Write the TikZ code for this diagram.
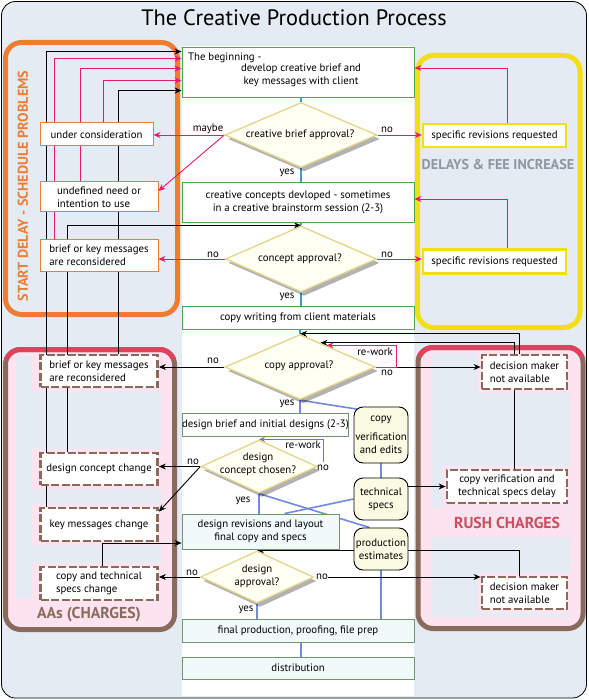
\documentclass[tikz,border=0pt]{standalone}
\usepackage{fontspec}
\setmainfont{PT Sans}
\usetikzlibrary{shapes.geometric,arrows.meta,calc,shadows}
\pgfdeclarelayer{panels}
\pgfdeclarelayer{edges}
\pgfsetlayers{panels,edges,main}
\definecolor{bgc}{HTML}{E4EBF2}
\definecolor{orangec}{HTML}{EE7D33}
\definecolor{yellowc}{HTML}{F2DF13}
\definecolor{brownc}{HTML}{8A6A5B}
\definecolor{redc}{HTML}{E2405C}
\definecolor{pinkc}{HTML}{FCE3EF}
\definecolor{greenc}{HTML}{4FA64F}
\definecolor{greentwo}{HTML}{6E976E}
\definecolor{skyc}{HTML}{3C9AD6}
\definecolor{peric}{HTML}{7389DE}
\definecolor{purpc}{HTML}{7470C8}
\definecolor{magc}{HTML}{E8196E}
\definecolor{diafill}{HTML}{FFFFF3}
\definecolor{diadraw}{HTML}{E3D58B}
\definecolor{beige}{HTML}{FBFBE4}
\definecolor{greyt}{HTML}{8D96A2}
\definecolor{rusht}{HTML}{C9505F}
\definecolor{lcyan}{HTML}{F1F9F9}
\tikzset{
 txt/.style={font=\fontsize{10.8}{13}\selectfont, text=black, inner sep=0pt},
 cbox/.style={draw=greenc, line width=0.9pt, fill=white, txt, align=center},
 gbox/.style={draw=greentwo, line width=0.9pt, fill=lcyan, txt, align=center},
 obox/.style={draw=orangec, line width=1pt, fill=white, txt, align=left},
 ybox/.style={draw=yellowc, line width=2.2pt, fill=white, txt},
 dbox/.style={draw=brownc, line width=2.8pt, dash pattern=on 8pt off 2.5pt, fill=white, txt, align=left},
 rbox/.style={draw=black, line width=0.9pt, fill=beige, rounded corners=9pt, txt, align=center},
 dia/.style={diamond, draw=diadraw, line width=1.3pt, fill=diafill, inner sep=0pt,
   drop shadow={shadow xshift=3pt, shadow yshift=-4pt, fill=black, opacity=0.3}},
 lab/.style={txt},
 ptitle/.style={font=\bfseries\fontsize{14.2}{16}\selectfont, inner sep=0pt},
 btitle/.style={font=\bfseries\fontsize{15.8}{18}\selectfont, inner sep=0pt},
 blk/.style={draw=black, line width=0.9pt, -{Stealth[length=7pt,width=6pt]}},
 pnk/.style={draw=magc, line width=0.9pt, -{Stealth[length=7pt,width=6pt]}},
 prp/.style={draw=purpc, line width=0.9pt, -{Stealth[length=6pt,width=5pt]}},
 sky/.style={draw=skyc, line width=2pt},
 peri/.style={draw=peric, line width=1.6pt},
}
\begin{document}
\begin{tikzpicture}[x=1pt,y=-1pt]
\useasboundingbox (0,0) rectangle (588,700);

% ---------- title
\node[font=\fontsize{22.3}{26}\selectfont, inner sep=0pt] (title) at (294,18) {The Creative Production Process};

% ---------- centre column
\node[cbox, minimum width=232pt, minimum height=50pt] (b1) at (298,72) {};
\node[txt, anchor=base west] (b1a) at (188,61) {The beginning -};
\node[txt, align=center] (b1b) at (301,75) {develop creative brief and\\key messages with client};
\node[dia, minimum width=152pt, minimum height=65pt] (cba) at (301,135) {};
\node[txt] (cbat) at (300,135) {creative brief approval?};
\node[cbox, minimum width=232pt, minimum height=40pt] (b3) at (298,202) {creative concepts devloped - sometimes\\in a creative brainstorm session (2-3)};
\node[dia, minimum width=151pt, minimum height=66pt] (ca) at (301,259) {};
\node[txt] (cat) at (300,259) {concept approval?};
\node[cbox, minimum width=232pt, minimum height=23pt] (b5) at (298,317.5) {copy writing from client materials};
\node[dia, minimum width=150pt, minimum height=65pt] (cp) at (300,367) {};
\node[txt] (cpt) at (299,366) {copy approval?};
\node[gbox, fill=white, minimum width=165pt, minimum height=23pt] (b7) at (265.5,424.5) {design brief and initial designs (2-3)};
\node[dia, minimum width=116pt, minimum height=53pt] (dc) at (259,466.5) {};
\node[txt, align=center] (dct) at (258,464) {design\\concept chosen?};
\node[gbox, minimum width=157pt, minimum height=35pt] (b9) at (260.5,531.5) {design revisions and layout\\final copy and specs};
\node[dia, minimum width=113pt, minimum height=52pt] (da) at (257,577) {};
\node[txt, align=center] (dat) at (257,576) {design\\approval?};
\node[gbox, minimum width=232pt, minimum height=23pt] (b11) at (298,630.5) {final production, proofing, file prep};
\node[gbox, minimum width=232pt, minimum height=22pt] (b12) at (298,668) {distribution};

% ---------- rounded side boxes
\node[rbox, minimum width=54pt, minimum height=56pt] (cv) at (381,435) {copy\\[6pt]verification\\and edits};
\node[rbox, minimum width=54pt, minimum height=42pt] (ts) at (381,499) {technical\\specs};
\node[rbox, minimum width=54pt, minimum height=42pt] (pe) at (381,549) {production\\estimates};

% ---------- start delay boxes
\node[obox, align=center, minimum width=113pt, minimum height=23pt] (uc) at (96.5,134.5) {under consideration};
\node[obox, minimum width=118pt, minimum height=30pt] (un) at (99,197) {undefined need or\\intention to use};
\node[obox, minimum width=118pt, minimum height=31pt] (bk) at (99,255.5) {brief or key messages\\are reconsidered};

% ---------- AAs boxes
\node[dbox, minimum width=117pt, minimum height=32pt] (a1) at (99,371) {brief or key messages\\are reconsidered};
\node[dbox, minimum width=117pt, minimum height=32pt] (a2) at (99,469) {design concept change};
\node[dbox, minimum width=117pt, minimum height=33pt] (a3) at (99,524.5) {key messages change};
\node[dbox, minimum width=117pt, minimum height=33pt] (a4) at (99,583.5) {copy and technical\\specs change};

% ---------- rush boxes
\node[dbox, minimum width=85pt, minimum height=34pt] (r1) at (524.5,372) {decision maker\\not available};
\node[dbox, align=center, minimum width=120pt, minimum height=33pt] (r2) at (507,486.5) {copy verification and\\technical specs delay};
\node[dbox, minimum width=85pt, minimum height=32pt] (r3) at (524.5,593) {decision maker\\not available};

% ---------- delays boxes
\node[ybox, minimum width=143pt, minimum height=23pt] (y1) at (494.5,135.5) {specific revisions requested};
\node[ybox, minimum width=143pt, minimum height=24pt] (y2) at (494.5,261.5) {specific revisions requested};

% ---------- panel titles
\node[ptitle, text=orangec, rotate=90] (t1) at (23,186) {START DELAY - SCHEDULE PROBLEMS};
\node[ptitle, text=greyt] (t2) at (498,165) {DELAYS \& FEE INCREASE};
\node[btitle, text=brownc] (t3) at (89,615) {AAs (CHARGES)};
\node[btitle, text=rusht] (t4) at (507,523) {RUSH CHARGES};

% ---------- labels
\node[lab] (l1) at (208,129) {maybe};
\node[lab] (l2) at (387,130) {no};
\node[lab] (l3) at (287,173) {yes};
\node[lab] (l4) at (213,255) {no};
\node[lab] (l5) at (387,255) {no};
\node[lab] (l6) at (287,297) {yes};
\node[lab] (l7) at (213,361) {no};
\node[lab] (l8) at (375,352) {re-work};
\node[lab] (l9) at (387,373) {no};
\node[lab] (l10) at (287,404) {yes};
\node[lab] (l11) at (193,462) {no};
\node[lab] (l12) at (303,445) {re-work};
\node[lab] (l13) at (323,468) {no};
\node[lab] (l14) at (243,501) {yes};
\node[lab] (l15) at (192,573) {no};
\node[lab] (l16) at (322,577) {no};
\node[lab] (l17) at (246,610) {yes};

% ---------- panels
\begin{pgfonlayer}{panels}
\draw[black, line width=0.8pt, fill=bgc, rounded corners=14pt] (1.5,1.5) rectangle (586.5,698);
\fill[white] (182,46) rectangle (414,696);
% start delay
\draw[orangec, line width=5pt, fill=bgc, rounded corners=16pt] (5.5,42.5) rectangle (177.5,314.5);
% delays
\draw[yellowc, line width=5pt, fill=bgc, rounded corners=16pt] (417.5,55.5) rectangle (580,327.5);
% AAs
\fill[pinkc, rounded corners=15pt] (5.5,349.5) rectangle (174.5,629.5);
\fill[bgc] (16,356) rectangle (161,598);
\foreach \n in {a1,a2,a3,a4}{
  \fill[pinkc] ($(\n.north west)+(-7,-3)$) rectangle ($(\n.south east)+(3,3)$);
}
\fill[pinkc] (36,600) rectangle (161,627);
\draw[brownc, line width=5pt, rounded corners=15pt] (5.5,349.5) rectangle (174.5,629.5);
\begin{scope}
\clip (0,340) rectangle (200,358);
\draw[redc, line width=5pt, rounded corners=15pt] (5.5,349.5) rectangle (174.5,629.5);
\end{scope}
% RUSH
\fill[pinkc, rounded corners=15pt] (418,347.5) rectangle (583,628.5);
\fill[bgc] (432,353) rectangle (570,617);
\foreach \n in {r1,r2,r3}{
  \fill[pinkc] ($(\n.north west)+(-3,-3)$) rectangle ($(\n.south east)+(3,3)$);
}
\fill[pinkc] (430,508) rectangle (569,537);
\draw[brownc, line width=5pt, rounded corners=15pt] (418,347.5) rectangle (583,628.5);
\begin{scope}
\clip (400,338) rectangle (600,356);
\draw[redc, line width=5pt, rounded corners=15pt] (418,347.5) rectangle (583,628.5);
\end{scope}
\end{pgfonlayer}

% ---------- connectors
\begin{pgfonlayer}{edges}
% main flow (upper)
\draw[sky] (cba.north) -- (cba.north |- b1.south);
\draw[sky] (cba.south) -- (cba.south |- b3.north);
\draw[sky] (ca.north) -- (ca.north |- b3.south);
\draw[sky] (ca.south) -- (ca.south |- b5.north);
\draw[sky] (cp.north) -- (cp.north |- b5.south);
% main flow (lower)
\draw[peri] (cp.south) -- (cp.south |- b7.north);
\draw[peri] (cp.south) -- ($(cv.north west)+(6,3)$);
\draw[peri] (cv.south) -- (ts.north);
\draw[peri] (dc.south) -- (dc.south |- b9.north);
\draw[peri] (dc.south) -- ($(pe.north west)+(16,0)$);
\draw[peri] (ts.west) -- ($(b9.north)+(24,0)$);
\draw[peri] (pe.south) -- (pe.south |- b11.north);
\draw[peri] (da.south) -- (da.south |- b11.north);
\draw[peri] ($(b11.south)+(3,0)$) -- ($(b12.north)+(3,0)$);
% back to the beginning
\draw[blk] ($(a3.north west)+(7,0)$) |- ($(b1.north west)+(0,5)$);
\draw[pnk] ($(bk.north west)+(15,0)$) |- ($(b1.north west)+(0,12)$);
\draw[pnk] ($(un.north west)+(41,0)$) |- ($(b1.north west)+(0,22)$);
\draw[pnk] ($(uc.north west)+(64,0)$) |- ($(b1.north west)+(0,34)$);
\draw[blk] ($(a1.north west)+(79,0)$) |- ($(b1.north west)+(0,44)$);
\draw[blk] ($(a2.north west)+(28,0)$) |- (ca.north);
% creative brief approval
\draw[pnk] (cba.west) -- (cba.west -| uc.east);
\draw[pnk] (cba.west) -- ($(un.east)+(0,-6)$);
\draw[pnk] (cba.east) -- (cba.east -| y1.west);
\draw[pnk] ($(y1.north)+(12.5,0)$) |- ($(b1.east)+(0,-4)$);
% concept approval
\draw[pnk] (ca.west) -- (ca.west -| bk.east);
\draw[pnk] (ca.east) -- (ca.east -| y2.west);
\draw[pnk] ($(y2.north)+(12.5,0)$) |- ($(b3.east)+(0,-3)$);
% copy approval
\draw[blk] (cp.west) -- (cp.west -| a1.east);
\draw[blk] (cp.east) -- (cp.east -| r1.west);
\draw[pnk] (cp.east) -- ++(21,0) |- ($(cp.north)!0.35!(cp.east)$);
\draw[blk] ($(r1.north west)+(39,0)$) |- (cp.north);
\draw[blk] ($(r2.north west)+(69,0)$) |- ($(cp.north)!0.27!(cp.east)$);
% design concept chosen
\draw[blk] (dc.west) -- (dc.west -| a2.east);
\draw[blk] (dc.west) -- ($(a3.north east)+(0,5)$);
\draw[prp] ($(dc.east)+(6,-5)$) |- (dc.north);
% specs and estimates
\draw[blk] (r2.west -| ts.east) -- (r2.west);
\draw[blk] ($(r3.north west)+(39,0)$) |- (da.north);
% design approval
\draw[blk] (l16.east) -- (l16.east -| r3.west);
\draw[blk] (da.west) -- (da.west -| a4.east);
\draw[blk] ($(a4.north west)+(63,0)$) |- ($(b9.west)+(0,11.5)$);
\end{pgfonlayer}
\end{tikzpicture}
\end{document}
